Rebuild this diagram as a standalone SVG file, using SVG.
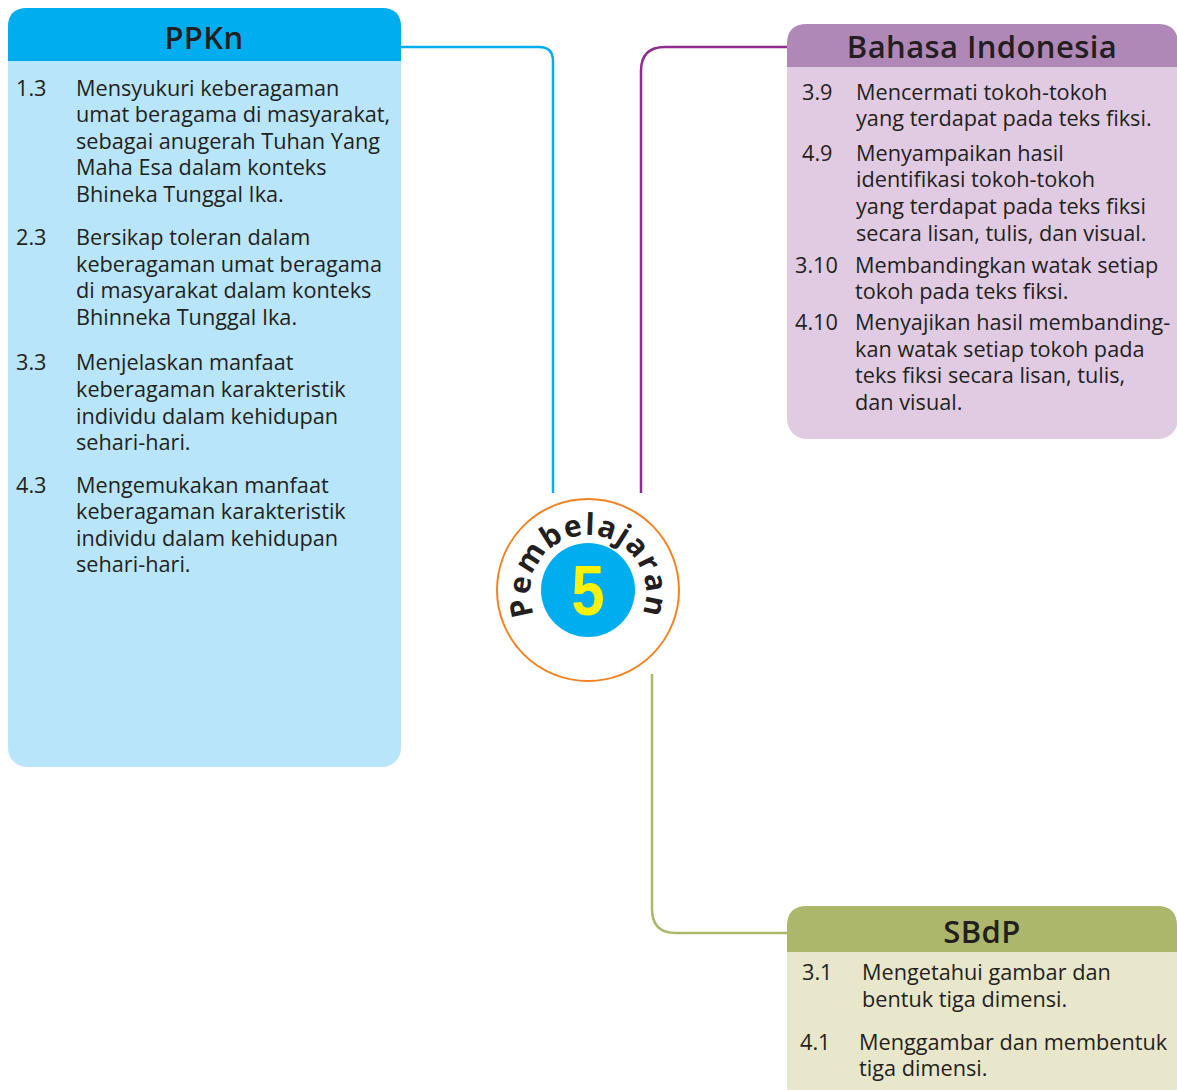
<svg xmlns="http://www.w3.org/2000/svg" width="1177" height="1090" viewBox="0 0 1177 1090">
<defs>
<style>
.t{font-family:"Open Sans","Liberation Sans",sans-serif;font-size:21.7px;fill:#231f20}
.h{font-family:"Open Sans","Liberation Sans",sans-serif;font-size:31px;font-weight:600;fill:#231f20;text-anchor:middle;letter-spacing:0.4px}
.c{fill:none;stroke-width:2.5}
</style>
<path id="arc" d="M 548 635 A 58 58 0 1 1 628 635"/>
</defs>
<rect width="1177" height="1090" fill="#fff"/>
<g id="connectors">
<path class="c" stroke="#00aeef" d="M 401 47 H 539 Q 553 47 553 61 V 493"/>
<path class="c" stroke="#8e2c8f" d="M 787 47 H 665 Q 641 47 641 71 V 493"/>
<path class="c" stroke="#abb76a" d="M 652 674 V 909 Q 652 933 676 933 H 787"/>
</g>
<g id="ppkn">
<rect x="8" y="8" width="393" height="759" rx="19" fill="#b8e5f9"/>
<path d="M 8 61 V 27 Q 8 8 27 8 H 382 Q 401 8 401 27 V 61 Z" fill="#00aeef"/>
<text class="h" x="204" y="49">PPKn</text>
<text class="t" x="16" y="96">1.3</text>
<text class="t" x="76" y="96">Mensyukuri keberagaman</text>
<text class="t" x="76" y="122">umat beragama di masyarakat,</text>
<text class="t" x="76" y="149">sebagai anugerah Tuhan Yang</text>
<text class="t" x="76" y="175">Maha Esa dalam konteks</text>
<text class="t" x="76" y="202">Bhineka Tunggal Ika.</text>
<text class="t" x="16" y="245">2.3</text>
<text class="t" x="76" y="245">Bersikap toleran dalam</text>
<text class="t" x="76" y="272">keberagaman umat beragama</text>
<text class="t" x="76" y="298">di masyarakat dalam konteks</text>
<text class="t" x="76" y="325">Bhinneka Tunggal Ika.</text>
<text class="t" x="16" y="370">3.3</text>
<text class="t" x="76" y="370">Menjelaskan manfaat</text>
<text class="t" x="76" y="397">keberagaman karakteristik</text>
<text class="t" x="76" y="424">individu dalam kehidupan</text>
<text class="t" x="76" y="450">sehari-hari.</text>
<text class="t" x="16" y="493">4.3</text>
<text class="t" x="76" y="493">Mengemukakan manfaat</text>
<text class="t" x="76" y="519">keberagaman karakteristik</text>
<text class="t" x="76" y="546">individu dalam kehidupan</text>
<text class="t" x="76" y="572">sehari-hari.</text>
</g>
<g id="bahasa">
<rect x="787" y="24" width="391" height="415" rx="20" fill="#e0cbe3"/>
<path d="M 787 67 V 44 Q 787 24 807 24 H 1158 Q 1178 24 1178 44 V 67 Z" fill="#b088b8"/>
<text class="h" x="982" y="58">Bahasa Indonesia</text>
<text class="t" x="802" y="100">3.9</text>
<text class="t" x="856" y="100">Mencermati tokoh-tokoh</text>
<text class="t" x="856" y="126">yang terdapat pada teks fiksi.</text>
<text class="t" x="802" y="161">4.9</text>
<text class="t" x="856" y="161">Menyampaikan hasil</text>
<text class="t" x="856" y="187">identifikasi tokoh-tokoh</text>
<text class="t" x="856" y="214">yang terdapat pada teks fiksi</text>
<text class="t" x="856" y="241">secara lisan, tulis, dan visual.</text>
<text class="t" x="795" y="273">3.10</text>
<text class="t" x="855" y="273">Membandingkan watak setiap</text>
<text class="t" x="855" y="299">tokoh pada teks fiksi.</text>
<text class="t" x="795" y="330">4.10</text>
<text class="t" x="855" y="330">Menyajikan hasil membanding-</text>
<text class="t" x="855" y="357">kan watak setiap tokoh pada</text>
<text class="t" x="855" y="383">teks fiksi secara lisan, tulis,</text>
<text class="t" x="855" y="410">dan visual.</text>
</g>
<g id="sbdp">
<rect x="787" y="906" width="390" height="200" rx="20" fill="#e8e6cb"/>
<path d="M 787 952 V 926 Q 787 906 807 906 H 1157 Q 1177 906 1177 926 V 952 Z" fill="#adb76b"/>
<text class="h" x="982" y="943">SBdP</text>
<text class="t" x="802" y="980">3.1</text>
<text class="t" x="862" y="980">Mengetahui gambar dan</text>
<text class="t" x="862" y="1007">bentuk tiga dimensi.</text>
<text class="t" x="800" y="1050">4.1</text>
<text class="t" x="859" y="1050">Menggambar dan membentuk</text>
<text class="t" x="859" y="1076">tiga dimensi.</text>
</g>
<g id="pembelajaran">
<circle cx="588" cy="590" r="91" fill="#fff" stroke="#f58220" stroke-width="2"/>
<circle cx="588" cy="590" r="47" fill="#00aeef"/>
<text transform="translate(588,615) scale(0.85,1)" text-anchor="middle" font-family="'Liberation Sans',sans-serif" font-weight="bold" font-size="70" fill="#fff200">5</text>
<text font-family="'Open Sans','Liberation Sans',sans-serif" font-weight="bold" font-size="30" fill="#231f20" letter-spacing="1.5"><textPath href="#arc" startOffset="50%" text-anchor="middle">Pembelajaran</textPath></text>
</g>
</svg>
